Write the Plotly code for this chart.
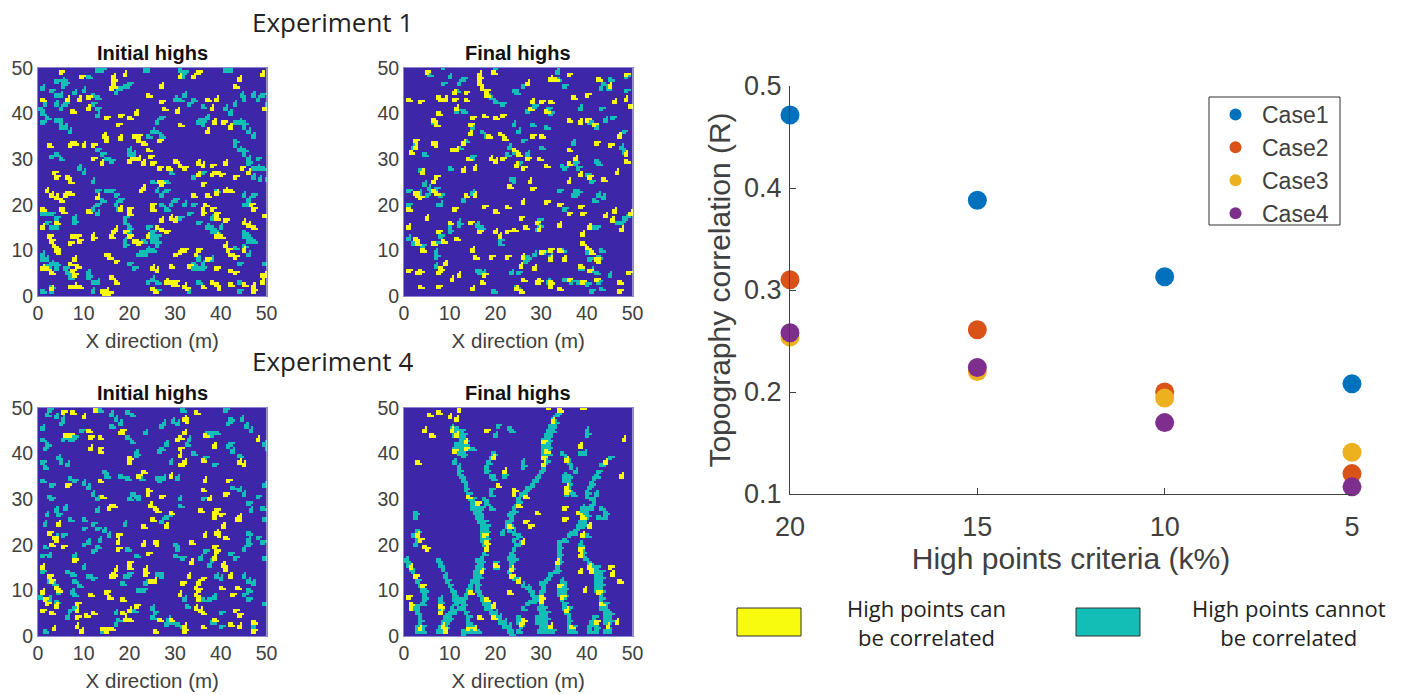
import plotly.graph_objects as go

W, H = 1408, 695

# ---------- right-hand scatter ----------
criteria = [20, 15, 10, 5]
case1 = [0.4715, 0.388, 0.313, 0.208]
case2 = [0.31, 0.261, 0.2, 0.12]
case3 = [0.254, 0.22, 0.194, 0.141]
case4 = [0.258, 0.224, 0.17, 0.107]
case_names = ["Case1", "Case2", "Case3", "Case4"]
case_colors = ["#0072BD", "#D95319", "#EDB120", "#7E2F8E"]

# ---------- occupancy maps: (x, y) of high points, metres ----------
P1_YELLOW = [(5.2,49.2),(16.5,48),(16.5,47),(16.5,46),(16,45.5),(19,48.5),(9.5,48),(27,46),(31,48),(34,48),(35,49),(44,47.5),(43,46),(49,48.5),(37,43),(39,43),(49.5,41),(38,41),(30.5,40.5),(27.5,41),(27,42.5),(6.5,43),(11,43.5),(9,43),(1,43),(11,41),(21.5,40),(20,39),(15,39),(18,39.5),(24,44),(7.5,40.5),(17.5,37.5),(31,37.5),(38.5,38),(40.5,38),(42,37),(37,36),(14.5,35),(15,34),(18,34.5),(21,35),(22,34),(22,35),(23,33.5),(26.5,34),(2.5,33),(7,33),(8,33.5),(10,33),(12,33),(24,32),(24.5,30.5),(12,30),(14,29),(20,29.5),(21,30),(22,30),(23,29),(30,29.5),(31,28.5),(32,28),(25,29),(26.5,28),(28.5,28),(35,29),(36,28.5),(38,28.5),(41,29),(35,26.5),(36,24.5),(38,26.5),(39,27),(40,26.5),(43,26),(46,27),(44.5,28),(3.5,27),(4,26),(6.5,26),(7,25),(26.5,25),(27,24.5),(23,23.5),(22.5,23),(2,23),(3,22),(4,21.5),(5,21),(6,22),(7,22.5),(39,22.5),(41,23),(42,23),(34,22),(37,22),(13,21.5),(1,19),(5,19),(5.5,18.5),(18,19),(20,19),(20,18),(25,20),(25,19),(11,18.5),(36,19),(36,18),(36.5,20),(38,19),(39,18),(39,17),(47,19),(46.5,20),(49.5,17.5),(29,17),(30,16.5),(27,16.5),(41,16.5),(45,16),(46,15.5),(47,15),(4,16),(1,15),(2.5,13),(3,12),(3.5,11),(4,10),(4.5,9.5),(7,11.5),(7.5,13),(8.5,13),(9,12),(12,12.5),(12,13),(16,13),(16.5,14),(17,14.5),(21,12),(20,13),(19,14),(22,11.5),(24,13),(26,15),(27,14.5),(28,14),(39,13),(40,13),(41,11),(41.5,10),(42,9),(43,8.5),(45,10),(31,9.5),(32,10),(30,9),(35,10),(34.5,9),(37,8),(15,9),(15.5,8.5),(17,7.5),(7,7),(8,8),(8.5,6.5),(7.5,5.5),(8,4.5),(1,6),(2,6),(3,5),(25,6),(29,6.5),(33,6.5),(39,6),(42,5.5),(43,5),(50,5),(49,4.5),(26,5.5),(16,4),(17,3),(29,3),(29.5,2.5),(30,3),(28,3),(30,2.5),(32,2),(32.5,1.5),(36,2),(38,3),(39,2.5),(39.5,1.5),(42,2.5),(45,2.5),(47,1),(47,2),(25,1.5),(25.5,1),(14,1),(15,1),(14.5,0.5),(15.5,0.5),(7,2),(8,2),(9,2),(3,1.5),(49,3)]
P1_TEAL = [(13,49.5),(14,49.5),(24,49.5),(23.5,49.5),(31,49.5),(32,49),(31.5,48),(41,49.5),(42,49.5),(5.5,47),(6,47),(4,47),(5.5,46),(11,48),(18,45.5),(19,46),(20,46.5),(17,44.5),(1,45.5),(3,45),(4,44),(5,44),(8,44.5),(10,45),(12,44),(13,43.5),(0.5,41),(1.5,42),(1,40),(2,39),(1,38),(4,42),(5,41),(6,42),(12,42),(13,41),(13,39.5),(4,38.5),(5,38),(5,37),(6,37),(7,36),(26,38),(27,39),(32,44),(31,43),(30,43),(33,42),(34,43),(36,41.5),(35,38),(36,38.5),(36,37.5),(37,39),(41,41),(42,40),(43,38),(44,38),(45,38),(45,37),(46,36),(47,35),(43,42),(44.5,44),(45,43),(47,44),(48,43),(49,44),(50,42),(43,34),(43,33),(44,32),(45,32),(45,31),(46,30),(46,29),(47,28),(48,28),(47,26),(48.5,25.5),(50,25.5),(49,28),(48,30),(27,35),(26,36),(25,36),(24,35),(20,32),(21,31),(20,31),(13,32),(14,31),(15,30),(16,29.5),(5,30),(4,31),(3,30.5),(10,27),(9,28),(12,25),(26,23),(27,22),(28,23),(28,25),(29,27),(25,25),(36,27),(34,26),(39,23),(34,20),(32,20),(30,21),(29,20),(28,19),(27,20),(33,18),(31,17),(35,16),(37,15),(38,17),(38,15),(38,14),(39,14),(40,15),(45,22),(46,21),(47,22),(46,20),(45,20),(1,18),(2,18),(3,18),(4,17),(2,16),(3,15),(4,15),(8,16),(8,17),(13,18),(12,19),(13,20),(14,21),(13,23),(15,23),(16,23),(17,22),(18,21),(17,20),(17.5,19),(19,17),(19,16),(20,15),(20,14),(19,12),(19,11),(23,12),(24,13),(25,13),(25,14),(24,15),(25,12),(26,12),(26,13),(26,11),(25,10),(24,10),(23,9.5),(23,9),(22,9),(34,7),(35,8),(36,7),(37,8),(38,8),(36,6),(35,6),(34,6),(33,6.5),(45,14),(45,13),(46,13),(46,12),(47,12),(45,11),(44,7),(46,9),(43,10.5),(1,9),(1,8),(2,8),(3,7),(4,7),(4,6),(2,6.5),(6,6),(6.5,5),(7,4),(11,4),(11,5),(12,3),(13,3),(12,1),(3,1),(1,1),(3,2),(24,3),(25,3.5),(26,3),(33,1),(35,3),(44,3),(44,1),(49.5,7),(26,1),(20,7),(21,6)]

P2_YELLOW = [(5.3,49),(16.5,48.5),(16.5,47.5),(16.5,46.5),(17,45.5),(18,45),(18,44),(19.5,49),(27,46.5),(32,47.5),(33,47.5),(36,48.5),(42.5,47.5),(45,46),(48.5,48.5),(7.5,43.5),(8,43),(9,43),(3.5,42.5),(1,43),(11,44.5),(11,43),(13.5,44.5),(13.5,43),(37,43.5),(40,44),(28,42.5),(27.5,41),(30,42.5),(32,42.5),(31,40.5),(46,42.5),(48.5,43),(49.5,41.5),(11.5,41),(7.5,40),(6.5,38.5),(7,37.5),(17.5,39.5),(20,39),(21.5,39.5),(38.5,38),(40,38.5),(41.5,37.5),(15,39),(14.5,37.5),(14.7,35.5),(18.5,35),(21,35.5),(22,34.5),(36,38.5),(28,35),(30,35),(47,35),(7,33),(6.5,33.5),(2.5,34),(2.5,32.5),(1.5,31.5),(10.5,32),(11.5,32),(13,33.5),(24,32),(25,31),(36,32),(42,33.5),(45,33),(48.5,31),(48.5,29.5),(14,30),(19,30),(20,29.5),(21.5,30),(24.5,28.5),(26,28),(27,30),(31,28.5),(29.5,30),(36,29),(37.5,30),(4,27),(7,26),(6.5,25),(13,27.5),(15.5,28),(36,25),(38.5,26.5),(40.5,26),(43.5,25.5),(46.5,27),(27.5,25),(23,24),(28,23.5),(2.5,22.5),(3,22),(3.5,21.5),(6.5,23),(7,22.5),(13.5,22),(15.5,22),(26,20.5),(31,20.5),(34,20),(1,19),(17.5,19.5),(20,18.5),(22.5,19.5),(11,19),(36,18),(38.5,19.5),(39,18),(46,18.5),(49.5,18),(5,17),(25.5,17),(44,17.5),(45.5,16.5),(47.5,14.5),(1,15),(10,16),(14.5,16),(16.5,14),(26.5,15),(29,16),(29.5,14.5),(34,15.5),(40.5,15),(2.5,12.5),(3,11.5),(4,10),(7.5,14),(6.5,11.5),(8.5,12),(11.5,12.5),(20,14),(21,13),(24,14.5),(22.5,14),(39,13.5),(39,11.5),(40,10.5),(41,9.5),(42,8),(42.5,7.5),(15,10),(15.5,8.5),(19,8.5),(22.5,8.5),(26,8.5),(30,9.5),(32,10),(32,8),(34,10),(35,8),(9,7),(8,6),(7.5,5),(1,5.5),(3,5),(3.5,5.5),(17.5,4.5),(17,3),(25.5,6.5),(28.5,6),(38.5,6.5),(40.5,5.5),(42,3.5),(10.5,3.5),(12,4.5),(26,3.5),(29,3),(29.5,3.5),(32,2),(32,3),(34,1.5),(36,3.5),(39,3),(49,5),(47,3),(47,1),(3.5,2),(7.5,2),(15,1.5),(24.5,1.5),(25.5,1)]
P2_TEAL = [(5.5,48.5),(8.5,50),(20,50),(8.5,46.5),(10,48),(12,46.5),(13,47.5),(11.5,45),(18,44.5),(19,43.5),(20,42.5),(21.5,42),(24,45),(24.5,44.5),(26,46),(33.5,49),(33.5,47.5),(36,48.5),(35,46),(43.5,46.5),(44.5,45.5),(43,45.5),(45,47.5),(48.5,48),(48.5,45),(27,40.5),(28.5,41.5),(31.5,41),(32,40),(38.5,41),(43,41),(44,38.5),(45.5,39),(40.5,38),(42,37),(13,40.5),(11.5,40.5),(6.5,38),(15,37),(14.5,35.5),(17,36),(18,35),(24,37.5),(25,36),(31,37),(28,37.5),(48,36),(47,35),(13,33.5),(13.5,34),(12,32.5),(37,33.5),(47.5,32.5),(48,31.5),(23,32.5),(24,31.5),(22.5,31),(26,34),(30,32.5),(2,32.5),(4.5,31),(27,31),(34.5,28.5),(35,28),(37.5,29),(38,28),(40,26.5),(41,25),(42.5,29),(42,29.5),(23.5,25.5),(24,25),(14.5,30),(14,30),(15,30.5),(10,28),(25,29),(7,26),(3.5,27.5),(4.5,24.5),(5.5,23.5),(3.5,22.5),(5,22),(6,23),(7,23.5),(8,22),(1,23),(37.5,23),(38,22.5),(37,22),(42.5,22),(41.5,21),(43.5,21.5),(34,23),(7.5,20),(8,20),(1,20),(15,22.5),(13,21),(35,19),(48,17),(49,17.5),(46.5,16),(47.5,16),(29.5,16.5),(29.5,15.5),(29,14.5),(16,15.5),(16.5,14.5),(17,15),(12,16),(12,15.5),(10,15),(1,12.5),(2,11.5),(4,11),(7,11.5),(10,14),(8,13),(41,15),(42,15),(7,9.5),(7,8.5),(21,12),(21,11.5),(27,8.5),(26.5,7.5),(28.5,9),(30.5,9.5),(32,8.5),(34.5,10),(40,9.5),(42.5,8.5),(43,10),(40.5,8),(7,6.5),(16,5.5),(16.5,5),(23.5,5),(25,5),(28.5,6),(38.5,6),(41,5.5),(42,5),(45,4.5),(35,3.5),(36.5,3),(38,3),(40,2.5),(42.5,3),(43,1.5),(41,1),(17.5,5),(24.5,2),(31.5,3),(19.5,1)]

P3_YELLOW = [(5.5,49),(7.5,49),(10,48),(12.5,49.5),(32,47.5),(32.5,47),(34.5,49),(18.5,45),(18,44.5),(11,45),(11.5,43.5),(13.5,43.5),(6,44),(7,44),(32,44.5),(30.5,43),(31,43.5),(36.5,44),(48,43),(38.5,41.5),(11.5,41),(13.5,41),(13.7,40.5),(31,41),(31,39.5),(20,39),(20,38),(36,38.5),(31,37.5),(32,38),(44,38),(45,37.5),(23,36),(29,35),(22,35),(13.5,34),(36.5,34),(41.5,34),(6.5,33),(24,32),(24.2,31),(36,32),(41,31),(27,30.5),(14,30.5),(37.5,30),(16.5,28.5),(15.5,28),(24.5,28.5),(25.5,28),(26,27.5),(35.5,27.5),(38.5,27),(38.5,26),(39,27.5),(40,26.5),(44,26),(43.5,25.5),(25,25.5),(29,27),(28,24),(23,24),(4.7,24.5),(40.5,24),(2.5,22.5),(3.5,21.5),(4,21),(5.5,19.5),(3,20),(17.5,22),(17.5,20.5),(17.5,19),(36.5,22),(39,22.5),(39.5,22),(41,21.5),(25.5,20.5),(26,20),(33.5,20.5),(38.5,19.5),(39,18.5),(38.5,17),(23,20),(24,18),(33.5,16),(40.5,15.5),(41,14.5),(1,15),(20,16),(20,15),(17,14.5),(16.5,13.5),(23.5,14.5),(23.5,13.5),(24.5,12),(25.5,12),(2.5,13),(3,12),(4,10.5),(4.5,10),(8,16.5),(16,13),(33,13),(42,13),(35,11.5),(36,12.5),(31.5,11.5),(34.5,10.5),(35,10),(15,9.5),(15.5,8.5),(11.5,9),(31,9),(34.5,9),(35,8),(40,10.5),(42.5,9),(43.5,10.5),(18.5,8),(1,9.5),(1.5,8),(2,7),(4,6.5),(1,5.5),(3,5),(8.5,7),(8.5,5.5),(8.5,4),(10.5,4.5),(12,5),(20,5.5),(18.5,5),(21.5,6.5),(34.5,6),(35.5,5.5),(36,5),(19,3.5),(20,3.5),(43,5.5),(44,4.5),(26.5,3.5),(29,3.5),(32,2),(32,1),(42,2.5),(47,3),(36,2),(3.5,1.5),(8.5,2),(14,1.5),(16,1.5),(15,1),(25.5,1),(44,2),(47,1),(9.5,1),(38.5,3.5)]
P3_TEAL = [(13.5,49.5),(5.5,47.5),(5,46.5),(4,48),(2.5,49.5),(2,48.5),(1,45.5),(16,48.5),(17,47.5),(16,46),(18,46.5),(19.5,49),(20.5,48.5),(27,46),(27.5,46.5),(29.5,47),(30.5,46.5),(31.5,49.5),(41,49.5),(42,47.5),(41.5,46.5),(44.5,47.5),(45.5,46),(46.5,45),(37,44.5),(38,44),(39,44.5),(33,43),(32.5,42),(9.5,45),(8,43.5),(7,43),(5.5,43),(1,43),(2,42),(1.5,41),(23.5,44.5),(19.5,43.5),(20.5,42.5),(28,42),(27,41),(26.5,40.5),(21.5,39.5),(21.5,40),(42,42),(42.5,40.5),(44,39.5),(41.5,41.5),(49.5,42),(50,41),(34,40),(36.5,39),(38.5,37.5),(4.5,39),(5,38),(6.5,37.5),(1,38),(1.5,37),(14.5,36),(15,35),(22,35),(22.5,34.5),(18,35),(19.5,34.5),(26,34.5),(26.5,34),(27.5,34.5),(29,38),(30.5,34.5),(8,34),(7,34.5),(10,33.5),(11,32.5),(12,31),(13,30),(2.5,30.5),(3,30),(3,33),(1,34),(20.5,31),(21.5,30.5),(22,30),(20,30),(31,30),(31,28.5),(36,30),(42.5,32.5),(44,32),(45,31),(46,29),(46.5,27.5),(48,30.5),(49,28),(49.5,25.5),(49.5,33),(4,27.5),(4.5,26.5),(6,28),(7,25.5),(2,26.5),(1.5,24.5),(10,25.5),(13,27.5),(28,26),(27,25),(29,26.5),(12,24.5),(13,23.5),(14.5,23),(15.5,22),(10,23.5),(19,24.5),(46,22.5),(46,21),(48,21.5),(49,20.5),(46,20),(5.5,22),(4,21.5),(1.5,19.5),(1,17.5),(2.5,17.5),(13.5,21),(13,19.5),(12,18.5),(10,20),(11,20.5),(19.5,19),(21.5,17.5),(30,20),(30.5,19),(30,17.5),(31.5,17),(36.5,18.5),(35.5,17),(38,16.5),(37.5,15.5),(42,18),(43,17),(45,19),(49.5,17),(8,17.5),(8,16.5),(6.5,14),(7.5,13.5),(8,12),(9,11),(10,15),(11,13),(12,12.5),(20,13.5),(19,13),(18.5,11.5),(22,10),(23,10),(23.5,11.5),(26,13.5),(27,13),(2.5,12),(3.5,11.5),(4.5,9.5),(1,14),(39,13),(40,12.5),(45,13),(46,12),(47,11.5),(46,10),(45,9),(46,8),(7.5,9.5),(8,9),(32,8),(32.5,6.5),(36,8),(37.5,8),(38.5,8.5),(2.5,8),(4,7.5),(0.5,8.5),(7,5.5),(8,6),(6.5,4),(17.5,3.5),(17,2.5),(25,6),(25.5,5),(25,4),(28.5,3.5),(29.5,3),(28,2.5),(30.5,2.5),(31.5,2),(40,5),(49.5,7),(1.5,1),(14,1),(15,1),(38,3),(40,2),(47,2),(21,5.5),(17,5)]

P4_YELLOW = [(5.5,48.5),(7.5,49),(10,48),(11.5,47.5),(12,49.5),(31.5,50),(34,49.5),(32.5,47),(39,50),(4.5,45),(6,44),(18,45),(10.5,45),(11.5,44),(13.5,42.5),(13.5,41),(11,40.5),(30.5,42.5),(31,40.5),(30.5,39),(38.5,41.5),(48,43),(19.5,39),(35.5,38.5),(44,38),(3,38),(22,36),(30.5,37.5),(47.5,35),(35.5,32.5),(35.5,31.5),(24,32),(24,31),(20.5,33),(14,30.5),(16,29),(25,28.5),(26.5,30.5),(29,27),(38,27),(35,28),(35,25.5),(39,26),(23,24),(27.5,24),(26.5,25),(3,22),(3.5,21),(4.5,19.5),(5,19),(17.5,22),(18,20.5),(18,19),(39,22),(40.5,24),(26,20.5),(38.5,19),(38.5,17.5),(33.5,16),(40.5,15),(20,15.5),(23.5,14.5),(23.5,13),(25,12),(1.5,15),(2.5,13),(4,11),(17,14),(14.5,9.5),(30,8.5),(1,8.5),(1.5,7),(1.5,6),(8,6.5),(8,5),(18,8),(19.5,6.5),(23,9.5),(34,11),(34.5,8.5),(35.5,5.5),(39.5,10),(42.5,9.5),(43,7),(42,3),(46.5,3),(8.5,2),(3.5,1.5),(14,1.5),(15.5,1.5),(9,1),(30,7.5),(32,2),(36.5,2),(44.5,2),(26,3.5),(25.5,2.5),(16.5,4),(19.5,4),(47,12),(45.5,13.5),(45,15),(38.5,14),(41,14)]
P4_TEAL = [(10.5,45.5),(11.5,45.5),(12.5,45),(13,44),(12,44),(11,44),(13.5,43),(12.5,43),(13.5,42),(12.5,42),(11.5,42),(14,41),(13,41),(12,41),(11,41),(13,40),(12,40),(13,39.5),(15,41),(12,35.5),(12.5,35),(13,34),(13.5,33),(13.5,32),(14,31),(14.5,30),(15,30),(15,29),(16,29),(15,28),(16,28),(17,28),(15.5,27),(16.5,27),(16,26),(17,26),(16.5,25),(17.5,25),(17,24),(18,24),(17,23),(18,23),(17,22),(18,22),(17,21),(18,21),(17.5,20),(18,19),(17.5,18),(17,17),(16,16.5),(17,16),(16,15),(17,15),(15.5,14),(16.5,14),(15.5,13),(16.5,13),(15,12),(16,12),(14.5,11),(16,11),(14,10),(16,10),(13.5,9),(16.5,9),(13,8),(17,8),(11.5,7),(13,7),(17.5,7),(18.5,7),(10.5,6),(12,6),(13,6),(18,6),(19,6),(10,5),(11,5),(13.5,5),(19,5),(20,5),(9,4),(10,4),(14,4),(20,4),(21,4),(8.5,3),(9.5,3),(14,3),(21,3),(22,3),(8,2),(9,2),(14,2),(15,2),(22,2),(23,2),(7.5,1),(8.5,1),(13,1),(14,1),(15,1),(16,1),(23,1),(23.5,0.5),(13,0.5),
(0.5,16.5),(1,15.5),(1.5,14.5),(2,14),(2.5,13),(3,12),(3.5,11),(4,10),(4.5,10),(4.5,9),(4.5,8),(4,7),(3,6.5),(2.5,6),(3,5),(3.5,4),(3.5,3),(3,2),(4,2),(3,1),(4,1),(7.5,16.5),(8,15.5),(8.5,14.5),(9,13),(9.5,12),(10,11),(10.5,10),(11,9),(12,8),(11,8),(8,8),(8,7),(8,6),(8,5),
(34,49.5),(33.5,48.5),(32.5,47.5),(33,47),(32,46),(33,46),(31.5,45),(32.5,45),(31,44),(32,44),(30.5,43),(31.5,43),(30.5,42),(31.5,42),(30.5,41),(31.5,41),(30.5,40),(31.5,40),(31,39),(31,38),(30.5,37),(30,36),(29.5,35),(29,34.5),(28.5,34),(28,33),(27,32.5),(26.5,31.5),(25.5,31),(25,30),(25,29),(24.5,28.5),(24,28),(24,27),(23,26.5),(23.5,26),(23,25),(22.5,25),(22.5,24),(23.5,24),(23,23),(24,22.5),(21.5,22.5),(25,22),(24,21),(25.5,20.5),(24.5,20),(24,19),(23.5,18),(23,17),(24,17),(23.5,16),(23.5,15),(23,14),(23.5,13),(24,12.5),(25,12),(26,11),(27,10.5),(27.5,10),(28,9),(28.5,8.5),(29,8),(28,7.5),(27,7),(26,6),(25,4),(25,3),(25.5,2),(25,1),
(45,39),(44,38),(43,37.5),(42.5,36),(42,35),(41.5,34.5),(41,33.5),(40.5,32.5),(40,31.5),(40,30.5),(41,30),(42,31),(41.5,29.5),(41,28.5),(40.5,28),(40,27),(40,26),(39.5,25),(38.5,25),(38,24),(37.5,23),(37,22.5),(36,22),(35,21),(34,20.5),(34,19.5),(34,18.5),(34,17.5),(34,16.5),(33.5,15.5),(33.5,14.5),(33,14),(32,13.5),(31.5,12.5),(31,12),(30,11.5),(30.5,10.5),(30,9.5),(29.5,8.5),(30,7),(30.5,6),(29.5,6),(30,5),(31,5),(29,4),(30,4),(31,4),(29,3),(30,3),(31,3),(30,2),(31,2),(32,2),(30.5,1),(31.5,1),(32.5,1),(29.5,1),
(34.5,12),(34,11),(35,11),(34,10),(35,10),(34,9),(35,9),(34.5,8),(35,7),(35,6),(36,6),(35.5,5),(36,4),(36,3),(36,2),(37,2),(36,1),(37,1),
(40.5,16),(41,15),(42,15),(42,14),(43,14),(42,13),(43,13),(42,12),(43,12),(42,11),(43,11),(42,10),(43,10),(43,9),(43,8),(43,7),(44,7),(43,6),(44,6),(44,5),(45,5),(44,4),(45,4),(41.5,4),(41,3),(42,3),(44,3),(45,3),(40.5,2),(42,2),(44.5,2),(40.5,1),(42,1),(44,1),(45,1),
(34.5,40),(35.5,39),(36,38),(36.5,37),(37.5,36),(35,35),(36,35),(35,34),(36,34),(36,33),(36,32),(35.5,31),(37,31),(39,28),(40,28),(39,27),(39,25),(39,24),(39,22),(40,22),(38.5,20),(39,19),(39,18),(39.5,17),(42.5,26),(44,26),(44,27),(43,28),
(19.5,40),(19,39),(18.5,38),(18,37),(18,36),(19,35),(19.5,34.5),(26,38),(26,37),(22,35),(17.5,30),(18,29),(19,28),(2.5,27),(2.5,26),(3,23),(2,22),(3,21),(2.5,20),(12,37),(11,38),(12,36),(19,32),(19,31),(20,15),(20,16),(23,45.5),(23.5,45),(40,45),(40,44),(38.5,40),(39.5,40),(38.5,41.5),(20,44),(20.5,46)]

N = 100  # cells per side
CMAP = [[0, "#3E26A8"], [0.33, "#3E26A8"], [0.34, "#13BEB7"], [0.66, "#13BEB7"], [0.67, "#F9FB0E"], [1, "#F9FB0E"]]
centres = [(i + 0.5) * 0.5 for i in range(N)]
# each high point covers a small block of cells with one extra cell, as the patches in the picture do
BLOCK = [(0, 0), (-1, 0), (0, -1), (-1, -1)]
EXTRA = [(1, 0), (0, 1), (1, -1)]


def grid(teal, yellow):
    z = [[0] * N for _ in range(N)]
    for pts, v in ((teal, 1), (yellow, 2)):
        for x, y in pts:
            i0 = int(x * 2)
            j0 = int(y * 2)
            for di, dj in BLOCK + [EXTRA[(i0 // 2 + j0 // 2) % 3]]:
                i, j = i0 + di, j0 + dj
                if 0 <= i < N and 0 <= j < N:
                    z[j][i] = v
    return z


def dom_x(a, b):
    return [a / W, b / W]


def dom_y(top, bottom):
    return [1 - bottom / H, 1 - top / H]


fig = go.Figure()
GREY = "#404040"
FF = "Liberation Sans"
TXT = dict(xref="paper", yref="paper", showarrow=False, xanchor="center", yanchor="middle")
panels = [
    (P1_TEAL, P1_YELLOW, 38, 266.5, 68, 296, "Initial highs"),
    (P2_TEAL, P2_YELLOW, 404, 632.5, 68, 296, "Final highs"),
    (P3_TEAL, P3_YELLOW, 38, 266.5, 408, 636, "Initial highs"),
    (P4_TEAL, P4_YELLOW, 404, 632.5, 408, 636, "Final highs"),
]
annotations = []
layout_axes = {}
for k, (t, y, x0, x1, y0, y1, title) in enumerate(panels, start=1):
    sfx = "" if k == 1 else str(k)
    fig.add_trace(go.Heatmap(x=centres, y=centres, z=grid(t, y), colorscale=CMAP, zmin=0, zmax=2,
                             showscale=False, xaxis="x" + sfx, yaxis="y" + sfx, hoverinfo="skip"))
    common = dict(range=[0, 50], tickvals=[0, 10, 20, 30, 40, 50], ticks="", showgrid=False, zeroline=False,
                  showline=True, linecolor="#8E86CC", linewidth=1, mirror=True, automargin=False,
                  tickfont=dict(family=FF, size=19.5, color=GREY))
    layout_axes["xaxis" + sfx] = dict(common, domain=dom_x(x0, x1), anchor="y" + sfx,
                                      title=dict(text="X direction (m)", standoff=10,
                                                 font=dict(family=FF, size=20.5, color=GREY)))
    layout_axes["yaxis" + sfx] = dict(common, domain=dom_y(y0, y1), anchor="x" + sfx)
    annotations.append(dict(TXT, text="<b>%s</b>" % title, x=(x0 + x1) / 2 / W, y=1 - (y0 - 15) / H,
                            font=dict(family=FF, size=20, color="#111111")))

fig.update_layout(**layout_axes)

# scatter, on its own axes
for name, color, vals in zip(case_names, case_colors, [case1, case2, case3, case4]):
    fig.add_trace(go.Scatter(x=criteria, y=vals, mode="markers", name=name, xaxis="x5", yaxis="y5",
                             legendgroup=name, cliponaxis=False,
                             marker=dict(color=color, size=19, line=dict(width=0))))

fig.update_layout(
    width=W, height=H, margin=dict(l=0, r=0, t=0, b=0), autosize=False,
    paper_bgcolor="white", plot_bgcolor="white", font=dict(family=FF, color=GREY),
    xaxis5=dict(domain=dom_x(790, 1352), anchor="y5", range=[20, 5], tickvals=criteria, automargin=False,
                ticks="inside", ticklen=6, tickcolor=GREY, showline=True, linecolor=GREY, linewidth=1,
                showgrid=False, zeroline=False, tickfont=dict(family=FF, size=27, color=GREY), ticklabelstandoff=9,
                title=dict(text="High points criteria (k%)", standoff=6, font=dict(family=FF, size=30, color=GREY))),
    yaxis5=dict(domain=dom_y(86, 494), anchor="x5", range=[0.1, 0.5], tickvals=[0.1, 0.2, 0.3, 0.4, 0.5], automargin=False,
                tickformat=".1f", ticks="inside", ticklen=6, tickcolor=GREY, showline=True, linecolor=GREY, linewidth=1,
                showgrid=False, zeroline=False, tickfont=dict(family=FF, size=27, color=GREY), ticklabelstandoff=2,
                title=dict(text="Topography correlation (R)", standoff=4, font=dict(family=FF, size=30, color=GREY))),
    showlegend=True,
    legend=dict(x=1209 / W, y=1 - 93 / H, xanchor="left", yanchor="top", borderwidth=0,
                bgcolor="rgba(0,0,0,0)", itemsizing="constant", tracegroupgap=0, itemwidth=43,
                font=dict(family=FF, size=23, color=GREY), entrywidth=72, entrywidthmode="pixels"),
)

annotations += [
    dict(TXT, text="Experiment 1", x=332 / W, y=1 - 22 / H, font=dict(family="Open Sans", size=26, color="#222222")),
    dict(TXT, text="Experiment 4", x=332 / W, y=1 - 361 / H, font=dict(family="Open Sans", size=26, color="#222222")),
    dict(TXT, text="High points can<br>be correlated", x=927 / W, y=1 - 622 / H,
         font=dict(family="Open Sans", size=22, color="#222222")),
    dict(TXT, text="High points cannot<br>be correlated", x=1289 / W, y=1 - 622 / H,
         font=dict(family="Open Sans", size=22, color="#222222")),
]
fig.update_layout(annotations=annotations)

fig.add_shape(type="rect", xref="paper", yref="paper", x0=737 / W, x1=801 / W, y0=1 - 636 / H, y1=1 - 608 / H,
              fillcolor="#F9FB0E", line=dict(color="#303030", width=1))
fig.add_shape(type="rect", xref="paper", yref="paper", x0=1076 / W, x1=1140 / W, y0=1 - 636 / H, y1=1 - 608 / H,
              fillcolor="#13BEB7", line=dict(color="#303030", width=1))
fig.add_shape(type="rect", xref="paper", yref="paper", x0=1209 / W, x1=1340 / W, y0=1 - 225 / H, y1=1 - 97 / H,
              fillcolor="rgba(0,0,0,0)", line=dict(color="#303030", width=1))

fig.write_html("out.html", config={"displayModeBar": False},
               post_script="document.body.style.margin='0';document.body.style.overflow='hidden';")
